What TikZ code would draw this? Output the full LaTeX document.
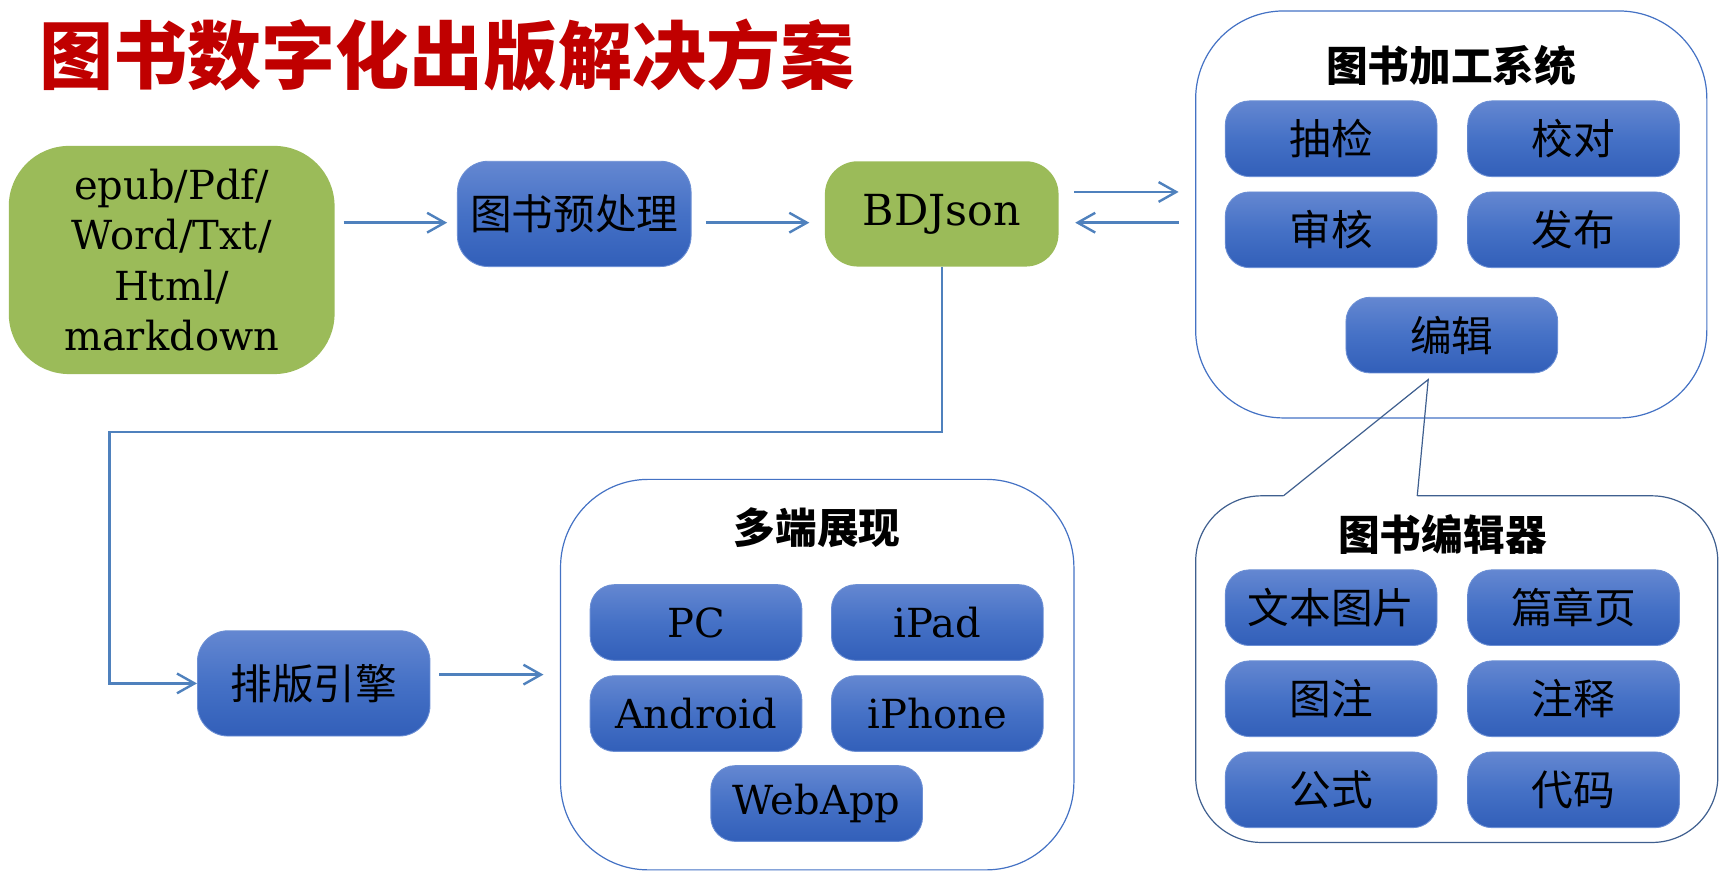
\documentclass[tikz,border=0pt]{standalone}
\usepackage{fontspec}
\setmainfont{DejaVu Serif}
\newfontfamily\cjk{Noto Sans CJK SC}
\usetikzlibrary{arrows.meta}
\definecolor{bluetop}{HTML}{6487D1}
\definecolor{bluemid}{HTML}{4571C6}
\definecolor{bluebot}{HTML}{325FB9}
\definecolor{blueedge}{HTML}{6C8FD4}
\definecolor{greenfill}{HTML}{9BBB59}
\definecolor{arrowblue}{HTML}{4F81BD}
\definecolor{contblue}{HTML}{4472C4}
\definecolor{callblue}{HTML}{3F5F8F}
\definecolor{titlered}{HTML}{C00000}
\tikzset{
  bluebox/.style={rounded corners=22pt, top color=bluetop, bottom color=bluebot, middle color=bluemid,
    draw=blueedge, line width=0.8pt, minimum width=193pt, minimum height=69pt, inner sep=0pt,
    font=\cjk\fontsize{38}{38}\selectfont},
  latinbox/.style={bluebox, font=\fontsize{36.5}{36.5}\selectfont},
  bigblue/.style={bluebox, rounded corners=28pt, minimum width=213pt, minimum height=96pt},
  greenbox/.style={fill=greenfill, rounded corners=30pt, minimum width=213pt, minimum height=96pt,
    inner sep=0pt, font=\fontsize{36.5}{46}\selectfont, align=center},
  container/.style={draw=contblue, line width=1.1pt, rounded corners=80pt, inner sep=0pt},
  grouptitle/.style={font=\cjk\bfseries\fontsize{38}{38}\selectfont, inner sep=0pt},
  flow/.style={draw=arrowblue, line width=2.2pt, -{Straight Barb[length=16pt,width=18pt]}},
  callline/.style={draw=callblue, line width=1.1pt}
}
\begin{document}
\begin{tikzpicture}[x=1pt,y=-1pt]
\useasboundingbox (0,0) rectangle (1568,795.85);

% title
\node[anchor=west, inner sep=0pt, text=titlered, font=\cjk\bfseries\fontsize{67.5}{67.5}\selectfont] (title) at (36,50) {图书数字化出版解决方案};

% first row
\node[greenbox, minimum width=297pt, minimum height=208pt, rounded corners=55pt] (input) at (156.5,237)
  {epub/Pdf/\\Word/Txt/\\Html/\\markdown};
\node[bigblue] (pre) at (523.5,195) {图书预处理};
\node[greenbox, font=\fontsize{39}{39}\selectfont] (bd) at (858.5,195) {BDJson};

% processing system
\node[container, minimum width=466pt, minimum height=371pt] (proc) at (1323,195.5) {};
\node[grouptitle] (proct) at (1323,60) {图书加工系统};
\node[bluebox] (b1) at (1213.5,126.5) {抽检};
\node[bluebox] (b2) at (1434.5,126.5) {校对};
\node[bluebox] (b3) at (1213.5,209.5) {审核};
\node[bluebox] (b4) at (1434.5,209.5) {发布};
\node[bluebox] (edit) at (1323.5,305.5) {编辑};

% editor callout
\coordinate (apex) at (1302,346);
\draw[callline] (1292,452) -- (apex) -- (1170,452);
\draw[callline, rounded corners=60pt] (1170,452) -- (1090,452) -- (1090,768) -- (1566,768) -- (1566,452) -- (1292,452);
\node[grouptitle] (edt) at (1315,487) {图书编辑器};
\node[bluebox] (e1) at (1213.5,554) {文本图片};
\node[bluebox] (e2) at (1434.5,554) {篇章页};
\node[bluebox] (e3) at (1213.5,637) {图注};
\node[bluebox] (e4) at (1434.5,637) {注释};
\node[bluebox] (e5) at (1213.5,720) {公式};
\node[bluebox] (e6) at (1434.5,720) {代码};

% typesetting engine
\node[bigblue, minimum width=212pt] (eng) at (286,623) {排版引擎};

% multi display
\node[container, minimum width=468pt, minimum height=356pt] (disp) at (745,615) {};
\node[grouptitle] (dispt) at (745,481) {多端展现};
\node[latinbox] (d1) at (634.5,567.5) {PC};
\node[latinbox] (d2) at (854.5,567.5) {iPad};
\node[latinbox] (d3) at (634.5,650.5) {Android};
\node[latinbox] (d4) at (854.5,650.5) {iPhone};
\node[latinbox] (d5) at (744.5,732.5) {WebApp};

% connectors
\coordinate (p1) at ([yshift=-8pt]pre.west);
\draw[flow, shorten <=8pt, shorten >=9pt] (input.east |- p1) -- (p1);
\coordinate (p2) at ([yshift=-8pt]bd.west);
\draw[flow, shorten <=13pt, shorten >=14pt] (pre.east |- p2) -- (p2);
\coordinate (q1) at ([yshift=20pt]bd.east);
\draw[flow, shorten <=14pt, shorten >=15pt] (q1) -- (proc.west |- q1);
\coordinate (q2) at ([yshift=-8pt]bd.east);
\draw[flow, shorten <=15pt, shorten >=15pt] (proc.west |- q2) -- (q2);
\coordinate (c1) at (100,394);
\draw[flow] (bd.south) |- (c1) |- (eng.west);
\coordinate (r1) at ([yshift=8pt]eng.east);
\draw[flow, shorten <=8pt, shorten >=15pt] (r1) -- (disp.west |- r1);
\end{tikzpicture}
\end{document}
